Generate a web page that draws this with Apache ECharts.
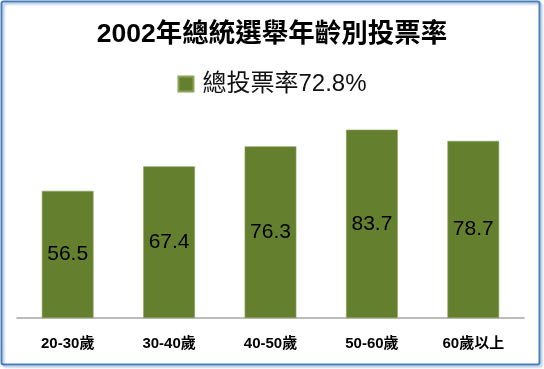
<!DOCTYPE html>
<html><head><meta charset="utf-8">
<script src="https://cdn.jsdelivr.net/npm/echarts@6/dist/echarts.min.js"></script>
<style>html,body{margin:0;padding:0;background:#fff}#c{width:544px;height:369px}</style>
</head><body><div id="c"></div>
<script>
const categories = ['20-30歲','30-40歲','40-50歲','50-60歲','60歲以上'];
const values = [56.5, 67.4, 76.3, 83.7, 78.7];
const seriesName = '總投票率72.8%';
const titleText = '2002年總統選舉年齡別投票率';

const chart = echarts.init(document.getElementById('c'), null, {renderer:'canvas'});
chart.setOption({
  animation:false,
  backgroundColor:'#fff',
  title:{text:titleText,left:'center',top:16,textStyle:{fontFamily:'"Liberation Sans","Noto Sans CJK TC",sans-serif',fontSize:26.5,fontWeight:'bold',color:'#000'}},
  legend:{data:[seriesName],top:67,left:'center',itemWidth:15,itemHeight:15,itemGap:6,icon:'rect',
    textStyle:{fontFamily:'"Liberation Sans","Noto Sans CJK TC",sans-serif',fontSize:24,color:'#111',padding:[0,0,0,4]}},
  grid:{left:17,right:20,top:93,bottom:51},
  xAxis:{type:'category',data:categories,axisLine:{lineStyle:{color:'#a6a6a6',width:1.5}},axisTick:{show:false},
    axisLabel:{margin:18,fontFamily:'"Liberation Sans","Noto Sans CJK TC",sans-serif',fontSize:15,fontWeight:'bold',color:'#000'}},
  yAxis:{type:'value',min:0,max:100,show:false,splitLine:{show:false}},
  series:[{name:seriesName,type:'bar',data:values,barWidth:'51%',
    itemStyle:{color:'#64802F',borderColor:'#8aa35a',borderWidth:0.6},
    label:{show:true,position:'inside',fontFamily:'"Liberation Sans","Noto Sans",sans-serif',fontSize:21,color:'#000'}}],
  graphic:[{type:'rect',shape:{x:1.5,y:1.5,width:538,height:363,r:2},z:100,
    style:{fill:null,stroke:'#4a7ebb',lineWidth:2,shadowColor:'rgba(74,126,187,0.45)',shadowBlur:2,shadowOffsetX:2,shadowOffsetY:2}}]
});
</script></body></html>
